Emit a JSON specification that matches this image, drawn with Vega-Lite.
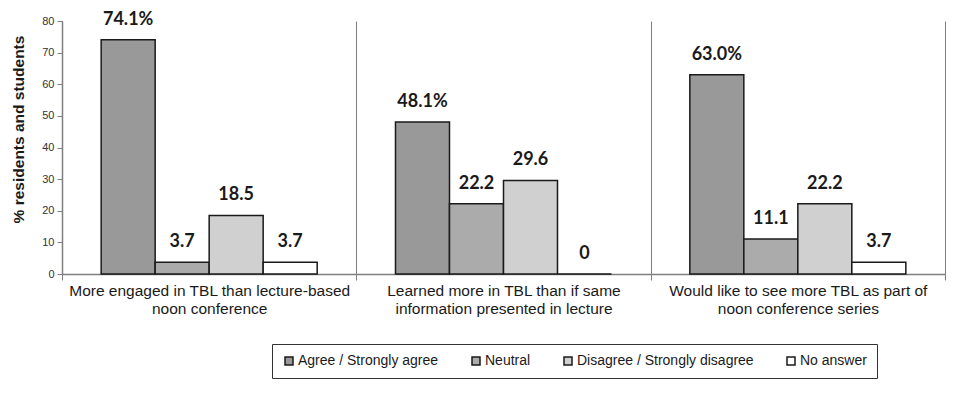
{
  "$schema": "https://vega.github.io/schema/vega-lite/v6.json",
  "width": 883,
  "height": 253,
  "autosize": {"type": "none"},
  "padding": {"left": 62, "top": 21, "right": 18, "bottom": 120},
  "background": "white",
  "config": {
    "view": {"stroke": null},
    "font": "Liberation Sans"
  },
  "data": {
    "values": [
      {"item": "More engaged in TBL than lecture-based|noon conference", "response": "Agree / Strongly agree", "pct": 74.1, "label": "74.1%"},
      {"item": "More engaged in TBL than lecture-based|noon conference", "response": "Neutral", "pct": 3.7, "label": "3.7"},
      {"item": "More engaged in TBL than lecture-based|noon conference", "response": "Disagree / Strongly disagree", "pct": 18.5, "label": "18.5"},
      {"item": "More engaged in TBL than lecture-based|noon conference", "response": "No answer", "pct": 3.7, "label": "3.7"},
      {"item": "Learned more in TBL than if same|information presented in lecture", "response": "Agree / Strongly agree", "pct": 48.1, "label": "48.1%"},
      {"item": "Learned more in TBL than if same|information presented in lecture", "response": "Neutral", "pct": 22.2, "label": "22.2"},
      {"item": "Learned more in TBL than if same|information presented in lecture", "response": "Disagree / Strongly disagree", "pct": 29.6, "label": "29.6"},
      {"item": "Learned more in TBL than if same|information presented in lecture", "response": "No answer", "pct": 0, "label": "0"},
      {"item": "Would like to see more TBL as part of|noon conference series", "response": "Agree / Strongly agree", "pct": 63.0, "label": "63.0%"},
      {"item": "Would like to see more TBL as part of|noon conference series", "response": "Neutral", "pct": 11.1, "label": "11.1"},
      {"item": "Would like to see more TBL as part of|noon conference series", "response": "Disagree / Strongly disagree", "pct": 22.2, "label": "22.2"},
      {"item": "Would like to see more TBL as part of|noon conference series", "response": "No answer", "pct": 3.7, "label": "3.7"}
    ]
  },
  "encoding": {
    "x": {
      "field": "item",
      "type": "nominal",
      "sort": null,
      "scale": {"paddingInner": 0, "paddingOuter": 0},
      "axis": {
        "title": null,
        "labelAngle": 0,
        "labelExpr": "split(datum.label, '|')",
        "labelFontSize": 15.5,
        "labelLineHeight": 18,
        "labelColor": "#1a1a1a",
        "labelPadding": 3,
        "labelLimit": 0,
        "tickBand": "extent",
        "tickSize": 6,
        "tickColor": "#7f7f7f",
        "grid": true,
        "gridColor": "#7f7f7f",
        "gridWidth": 1,
        "domainColor": "#7f7f7f",
        "domainWidth": 1.5
      }
    },
    "xOffset": {
      "field": "response",
      "type": "nominal",
      "sort": ["Agree / Strongly agree", "Neutral", "Disagree / Strongly disagree", "No answer"],
      "scale": {"paddingInner": 0, "paddingOuter": 0.725}
    },
    "y": {
      "field": "pct",
      "type": "quantitative",
      "scale": {"domain": [0, 80], "nice": false},
      "axis": {
        "title": "% residents and students",
        "titleFontSize": 15.5,
        "titleFontWeight": "bold",
        "titleColor": "#1a1a1a",
        "titleX": -44,
        "titleY": 108,
        "titleAlign": "center",
        "titleBaseline": "middle",
        "values": [0, 10, 20, 30, 40, 50, 60, 70, 80],
        "labelFontSize": 11,
        "labelColor": "#333333",
        "labelPadding": 3,
        "tickSize": 5,
        "tickColor": "#7f7f7f",
        "grid": false,
        "domainColor": "#7f7f7f",
        "domainWidth": 1.5
      }
    }
  },
  "layer": [
    {
      "mark": {"type": "bar", "stroke": "#1a1a1a", "strokeWidth": 1.5},
      "encoding": {
        "fill": {
          "field": "response",
          "type": "nominal",
          "scale": {
            "domain": ["Agree / Strongly agree", "Neutral", "Disagree / Strongly disagree", "No answer"],
            "range": ["#999999", "#ababab", "#d0d0d0", "#ffffff"]
          },
          "legend": {
            "title": null,
            "orient": "none",
            "legendX": 210,
            "legendY": 323,
            "direction": "horizontal",
            "strokeColor": "#333333",
            "padding": 10,
            "symbolType": "square",
            "symbolSize": 64,
            "symbolStrokeColor": "#1a1a1a",
            "symbolStrokeWidth": 1.5,
            "labelFontSize": 14,
            "labelColor": "#1a1a1a",
            "labelOffset": 2,
            "columnPadding": 30,
            "labelLimit": 0
          }
        }
      }
    },
    {
      "mark": {
        "type": "text",
        "dy": -15,
        "baseline": "alphabetic",
        "font": "Lato",
        "fontWeight": "bold",
        "fontSize": 18,
        "color": "#1a1a1a"
      },
      "encoding": {"text": {"field": "label"}}
    }
  ]
}
